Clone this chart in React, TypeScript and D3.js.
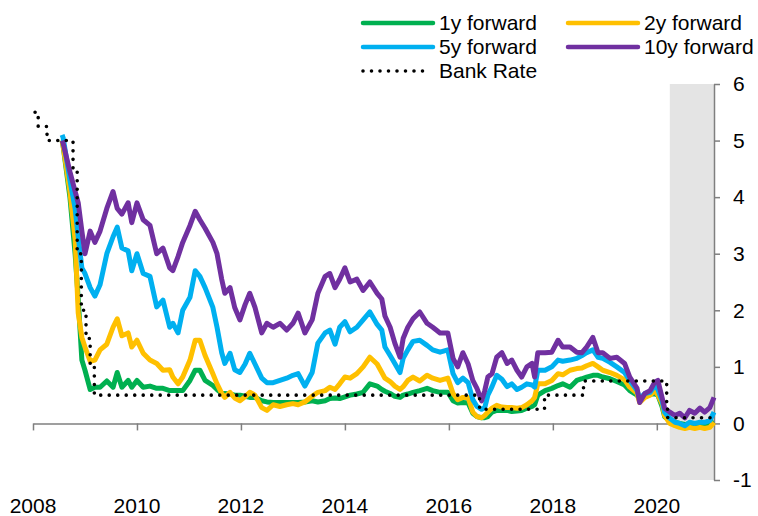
import React, { useRef, useEffect } from 'react';
import * as d3 from 'd3';

// decimal years, shared by the four forward curves
const dates = [
  2008.56, 2008.58, 2008.71, 2008.81, 2008.87, 2008.94, 2009.0, 2009.1, 2009.19, 2009.29,
  2009.42, 2009.54, 2009.62, 2009.71, 2009.83, 2009.9, 2010.0, 2010.12, 2010.25, 2010.38,
  2010.5, 2010.63, 2010.69, 2010.79, 2010.88, 2011.02, 2011.12, 2011.21, 2011.31, 2011.46,
  2011.54, 2011.63, 2011.69, 2011.79, 2011.88, 2011.98, 2012.08, 2012.17, 2012.27, 2012.4,
  2012.5, 2012.62, 2012.75, 2012.88, 2013.0, 2013.1, 2013.23, 2013.37, 2013.48, 2013.62,
  2013.71, 2013.81, 2013.9, 2014.0, 2014.1, 2014.23, 2014.35, 2014.48, 2014.62, 2014.71,
  2014.77, 2014.87, 2014.96, 2015.06, 2015.12, 2015.21, 2015.31, 2015.44, 2015.58, 2015.69,
  2015.83, 2015.98, 2016.08, 2016.17, 2016.27, 2016.37, 2016.46, 2016.54, 2016.63, 2016.69,
  2016.75, 2016.83, 2016.92, 2017.02, 2017.12, 2017.21, 2017.31, 2017.4, 2017.5, 2017.6,
  2017.65, 2017.71, 2017.85, 2017.98, 2018.1, 2018.19, 2018.33, 2018.46, 2018.56, 2018.65,
  2018.77, 2018.87, 2018.96, 2019.1, 2019.23, 2019.38, 2019.48, 2019.62, 2019.67, 2019.77,
  2019.87, 2019.96, 2020.02, 2020.1, 2020.15, 2020.25, 2020.35, 2020.44, 2020.54, 2020.63,
  2020.73, 2020.83, 2020.92, 2021.02, 2021.1,
];

const oneYear = [
  5.0, 4.9, 4.0, 3.0, 2.2, 1.12, 0.94, 0.6, 0.64, 0.64,
  0.75, 0.64, 0.9, 0.64, 0.76, 0.64, 0.76, 0.64, 0.66, 0.62,
  0.62, 0.58, 0.58, 0.58, 0.58, 0.76, 0.94, 0.94, 0.76, 0.67,
  0.6, 0.53, 0.53, 0.52, 0.5, 0.5, 0.48, 0.46, 0.46, 0.4,
  0.38, 0.37, 0.37, 0.37, 0.37, 0.37, 0.38, 0.4, 0.38, 0.4,
  0.44, 0.45, 0.44, 0.47, 0.5, 0.52, 0.55, 0.7, 0.66, 0.6,
  0.57, 0.53, 0.48, 0.46, 0.5, 0.52, 0.55, 0.58, 0.62, 0.58,
  0.55, 0.55, 0.4, 0.36, 0.37, 0.36, 0.18, 0.12, 0.1, 0.1,
  0.12, 0.2, 0.23, 0.23, 0.23, 0.21, 0.22, 0.23, 0.27, 0.3,
  0.33, 0.5, 0.58, 0.62, 0.67, 0.7, 0.64, 0.76, 0.79, 0.82,
  0.85, 0.85, 0.82, 0.79, 0.74, 0.68, 0.58, 0.5, 0.44, 0.48,
  0.52, 0.52, 0.5, 0.3, 0.12, 0.05, 0.02, 0.0, -0.02, 0.0,
  -0.02, 0.0, -0.02, 0.0, 0.03,
];

const twoYear = [
  5.0, 4.9, 4.1, 3.25, 1.95, 1.52, 1.35, 1.1, 1.12, 1.3,
  1.4, 1.7, 1.85, 1.55, 1.6, 1.35, 1.47, 1.24, 1.12, 1.06,
  0.94, 0.95, 0.82, 0.7, 0.82, 1.12, 1.47, 1.47, 1.2, 0.88,
  0.7, 0.53, 0.46, 0.55, 0.45, 0.4, 0.47, 0.55, 0.5, 0.28,
  0.23, 0.33, 0.3, 0.33, 0.35, 0.33, 0.38, 0.48, 0.55, 0.58,
  0.64, 0.6, 0.7, 0.82, 0.8, 0.88, 1.0, 1.17, 1.05, 0.9,
  0.8, 0.74, 0.66, 0.6, 0.65, 0.76, 0.82, 0.75, 0.85, 0.8,
  0.76, 0.8, 0.53, 0.42, 0.46, 0.46, 0.2, 0.12, 0.1, 0.14,
  0.2, 0.27, 0.32, 0.29, 0.28, 0.28, 0.27, 0.28, 0.33, 0.4,
  0.46, 0.7, 0.7, 0.76, 0.88, 0.86, 0.94, 0.97, 0.98, 1.02,
  1.06, 1.0, 0.94, 0.9, 0.85, 0.77, 0.64, 0.53, 0.37, 0.46,
  0.5, 0.58, 0.5, 0.35, 0.14, 0.0, -0.04, -0.07, -0.09, -0.07,
  -0.09, -0.07, -0.09, -0.07, 0.02,
];

const fiveYear = [
  5.1, 5.05, 4.3, 3.8, 3.3, 2.75, 2.65, 2.4, 2.25, 2.45,
  3.0, 3.3, 3.47, 3.1, 3.05, 2.7, 3.0, 2.65, 2.6, 2.06,
  2.18, 1.7, 1.77, 1.6, 2.0, 2.23, 2.7, 2.6, 2.4, 2.05,
  1.7, 1.25, 1.06, 1.24, 0.95, 0.9, 1.05, 1.24, 1.05, 0.8,
  0.72, 0.72, 0.76, 0.8, 0.85, 0.88, 0.66, 0.9, 1.42, 1.6,
  1.65, 1.4, 1.7, 1.8, 1.62, 1.7, 1.83, 1.97, 1.75, 1.65,
  1.35, 1.2, 1.06, 0.9, 1.15, 1.3, 1.45, 1.47, 1.38, 1.3,
  1.26, 1.3, 0.88, 0.72, 0.8, 0.72, 0.42, 0.3, 0.25, 0.28,
  0.5, 0.65, 0.85, 0.78, 0.65, 0.7, 0.6, 0.64, 0.7, 0.68,
  0.64, 0.94, 0.94, 1.0, 1.12, 1.1, 1.12, 1.15, 1.2, 1.25,
  1.3, 1.17, 1.15, 1.08, 1.0, 0.9, 0.76, 0.58, 0.44, 0.53,
  0.55, 0.67, 0.6, 0.4, 0.2, 0.09, 0.02, 0.0, -0.04, 0.02,
  0.0, 0.02, 0.02, 0.05, 0.2,
];

const tenYear = [
  5.0, 4.95, 4.45, 4.1, 3.9, 3.4, 3.0, 3.4, 3.2, 3.4,
  3.8, 4.1, 3.8, 3.7, 3.9, 3.55, 3.9, 3.6, 3.5, 3.0,
  3.1, 2.75, 2.7, 2.95, 3.2, 3.5, 3.75, 3.6, 3.45, 3.2,
  3.0, 2.55, 2.3, 2.4, 2.05, 1.83, 2.1, 2.3, 2.05, 1.6,
  1.77, 1.7, 1.77, 1.65, 1.77, 1.95, 1.6, 1.83, 2.3, 2.6,
  2.65, 2.4, 2.55, 2.75, 2.5, 2.55, 2.35, 2.5, 2.3, 2.2,
  1.9, 1.7, 1.42, 1.17, 1.5, 1.7, 1.85, 1.97, 1.77, 1.7,
  1.6, 1.6, 1.15, 1.0, 1.25, 1.05, 0.76, 0.62, 0.4, 0.58,
  0.82, 0.88, 1.17, 1.25, 1.06, 1.12, 0.94, 0.82, 1.0, 1.06,
  0.82, 1.25, 1.25, 1.26, 1.47, 1.35, 1.35, 1.26, 1.25, 1.35,
  1.52, 1.25, 1.25, 1.15, 1.17, 1.06, 0.82, 0.62, 0.37, 0.53,
  0.58, 0.73, 0.76, 0.46, 0.27, 0.2, 0.14, 0.18, 0.1, 0.23,
  0.18, 0.27, 0.2, 0.28, 0.46,
];

// Bank Rate changes (step after each date)
const bankDates = [2008.04, 2008.1, 2008.27, 2008.77, 2008.85, 2008.93, 2009.02, 2009.1, 2009.18, 2016.59, 2017.84, 2018.59, 2020.19, 2020.21, 2021.1];
const bankRate = [5.5, 5.25, 5.0, 4.5, 3.0, 2.0, 1.5, 1.0, 0.5, 0.25, 0.5, 0.75, 0.25, 0.1, 0.1];

const yearTicks = [2008, 2010, 2012, 2014, 2016, 2018, 2020];
const rateTicks = [-1, 0, 1, 2, 3, 4, 5, 6];
const shaded = [2020.25, 2021.1];

const seriesNames = ['1y forward', '2y forward', '5y forward', '10y forward'];
const seriesColors = ['#00B050', '#FFC000', '#00B0F0', '#7030A0'];
const seriesValues = [oneYear, twoYear, fiveYear, tenYear];

const W = 758;
const H = 516;
const FONT = 'Arial, "Liberation Sans", sans-serif';

const App = () => {
  const svgRef = useRef<SVGSVGElement>(null);

  useEffect(() => {
    const svg = d3.select(svgRef.current);
    svg.selectAll('*').remove();

    const x = d3.scaleLinear().domain([2008, 2021.1]).range([33, 714]);
    const y = d3.scaleLinear().domain([-1, 6]).range([480, 84]);

    // shaded period
    svg.append('rect')
      .attr('x', x(shaded[0]))
      .attr('y', y(6))
      .attr('width', x(shaded[1]) - x(shaded[0]))
      .attr('height', y(-1) - y(6))
      .attr('fill', '#e4e4e4');

    // axes
    const xAxis = d3.axisBottom(x).tickValues(yearTicks).tickSize(7).tickSizeOuter(0).tickFormat(() => '');
    const gx = svg.append('g').attr('transform', `translate(0,${y(0)})`).call(xAxis);
    gx.select('.domain').attr('stroke', '#7f7f7f').attr('stroke-width', 1.5);
    gx.selectAll('.tick line').attr('stroke', '#7f7f7f').attr('stroke-width', 1.5);

    const yAxis = d3.axisRight(y)
      .tickValues(rateTicks)
      .tickSize(6)
      .tickSizeOuter(0)
      .tickPadding(13)
      .tickFormat((d) => String(d));
    const gy = svg.append('g').attr('transform', `translate(${x(2021.1)},0)`).call(yAxis);
    gy.select('.domain').attr('stroke', '#7f7f7f').attr('stroke-width', 1.5);
    gy.selectAll('.tick line').attr('stroke', '#7f7f7f').attr('stroke-width', 1.5);
    gy.selectAll('.tick text')
      .attr('fill', '#000')
      .style('font-family', FONT)
      .style('font-size', '21px');

    svg.append('g')
      .selectAll('text')
      .data(yearTicks)
      .join('text')
      .attr('x', (d) => x(d))
      .attr('y', 513)
      .attr('text-anchor', 'middle')
      .style('font-family', FONT)
      .style('font-size', '21px')
      .text((d) => String(d));

    // forward curves
    const line = d3.line<number>()
      .x((_, i) => x(dates[i]))
      .y((d) => y(d))
      .curve(d3.curveLinear);

    svg.append('g')
      .selectAll('path')
      .data(seriesValues)
      .join('path')
      .attr('d', (d) => line(d))
      .attr('fill', 'none')
      .attr('stroke', (_, i) => seriesColors[i])
      .attr('stroke-width', 5)
      .attr('stroke-linejoin', 'round');

    // Bank Rate
    const bankLine = d3.line<number>()
      .x((_, i) => x(bankDates[i]))
      .y((d) => y(d))
      .curve(d3.curveStepAfter);

    svg.append('path')
      .attr('d', bankLine(bankRate))
      .attr('fill', 'none')
      .attr('stroke', '#000')
      .attr('stroke-width', 3.6)
      .attr('stroke-linecap', 'round')
      .attr('stroke-dasharray', '0 8.5');

    // legend
    const legendItems = [
      { label: seriesNames[0], color: seriesColors[0], lx: 363, row: 0, dotted: false },
      { label: seriesNames[1], color: seriesColors[1], lx: 568, row: 0, dotted: false },
      { label: seriesNames[2], color: seriesColors[2], lx: 363, row: 1, dotted: false },
      { label: seriesNames[3], color: seriesColors[3], lx: 568, row: 1, dotted: false },
      { label: 'Bank Rate', color: '#000', lx: 363, row: 2, dotted: true },
    ];
    const lg = svg.append('g').selectAll('g').data(legendItems).join('g')
      .attr('transform', (d) => `translate(${d.lx},${23 + d.row * 24})`);
    lg.append('line')
      .attr('x1', 0)
      .attr('x2', (d) => (d.dotted ? 63 : 70))
      .attr('stroke', (d) => d.color)
      .attr('stroke-width', (d) => (d.dotted ? 3.6 : 4.5))
      .attr('stroke-linecap', 'round')
      .attr('stroke-dasharray', (d) => (d.dotted ? '0 8.5' : null));
    lg.append('text')
      .attr('x', 76)
      .attr('dy', '0.35em')
      .style('font-family', FONT)
      .style('font-size', '21px')
      .text((d) => d.label);
  }, []);

  return (
    <svg
      ref={svgRef}
      width={W}
      height={H}
      style={{ position: 'absolute', left: 0, top: 0, background: '#fff' }}
    />
  );
};

export default App;
